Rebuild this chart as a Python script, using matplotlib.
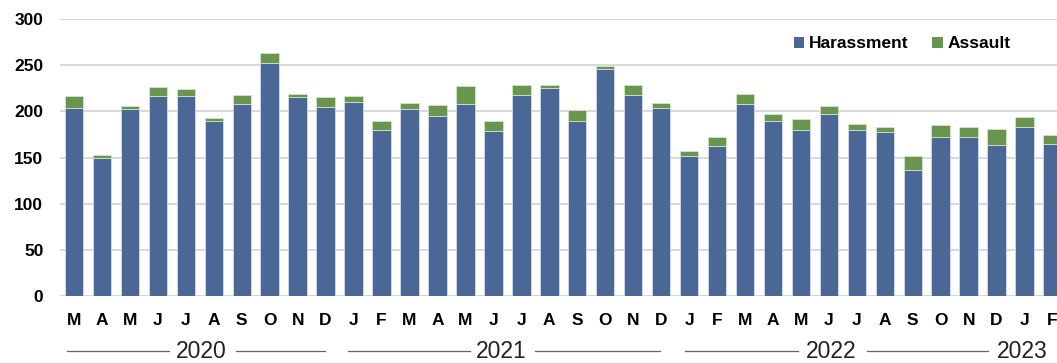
import matplotlib
matplotlib.use('Agg')
import matplotlib.pyplot as plt
from matplotlib.patches import Patch
import numpy as np

# Monthly reports, March 2020 - February 2023
months = ['M', 'A', 'M', 'J', 'J', 'A', 'S', 'O', 'N', 'D',
          'J', 'F', 'M', 'A', 'M', 'J', 'J', 'A', 'S', 'O', 'N', 'D',
          'J', 'F', 'M', 'A', 'M', 'J', 'J', 'A', 'S', 'O', 'N', 'D',
          'J', 'F']
harassment = [204, 150, 202, 217, 217, 189, 208, 252, 216, 205,
              210, 180, 202, 195, 208, 179, 218, 225, 190, 246, 218, 204,
              152, 162, 208, 190, 180, 197, 180, 178, 136, 172, 172, 163,
              183, 165]
assault = [13, 3, 4, 9, 7, 4, 10, 11, 3, 10,
           7, 10, 7, 12, 19, 11, 10, 4, 11, 3, 10, 5,
           5, 10, 11, 7, 12, 9, 6, 5, 16, 13, 11, 18,
           11, 9]
years = ['2020', '2021', '2022', '2023']
year_label_x = [4.55, 15.3, 27.1, 33.9]
year_spans = [(-0.25, 3.4, 5.8, 8.98),
              (9.8, 14.15, 16.5, 20.96),
              (21.85, 25.9, 28.36, 32.69),
              None]

blue = '#4a6796'
green = '#6a954e'
plt.rcParams['font.family'] = ['Liberation Sans', 'DejaVu Sans']

fig = plt.figure(figsize=(10.57, 3.63), dpi=100)
ax = fig.add_axes([60 / 1057, 67 / 363, 997 / 1057, 277 / 363])

x = np.arange(len(months))
ax.bar(x, harassment, width=0.66, color=blue, edgecolor='#dde5ee',
       linewidth=0.5, zorder=3)
ax.bar(x, assault, bottom=harassment, width=0.66, color=green,
       edgecolor='#dde8d6', linewidth=0.5, zorder=3)

ax.set_xlim(-0.5, 35.16)
ax.set_ylim(0, 300)
ax.set_yticks(range(0, 301, 50))
ax.yaxis.grid(True, color='#d6d6d6', linewidth=1.3, zorder=0)
ax.set_axisbelow(True)
for s in ax.spines.values():
    s.set_visible(False)
ax.axhline(0, color='#d6d6d6', linewidth=1.5, zorder=2)

ax.set_xticks(x)
ax.set_xticklabels(months, fontsize=12.5, fontweight='bold')
ax.tick_params(axis='x', length=0, pad=12)
ax.tick_params(axis='y', length=0, pad=12, labelsize=12.5)
for lbl in ax.get_yticklabels():
    lbl.set_fontweight('bold')

# year labels with rules either side
tr = ax.get_xaxis_transform()
yy = -0.199
for name, lx, span in zip(years, year_label_x, year_spans):
    ax.text(lx, yy, name, transform=tr, ha='center', va='center',
            fontsize=16.5, color='#222222', clip_on=False)
    if span is not None:
        ax.plot([span[0], span[1]], [yy, yy], transform=tr, color='#666666',
                linewidth=0.9, clip_on=False)
        ax.plot([span[2], span[3]], [yy, yy], transform=tr, color='#666666',
                linewidth=0.9, clip_on=False)

handles = [Patch(facecolor=blue, label='Harassment'),
           Patch(facecolor=green, label='Assault')]
fig.legend(handles=handles, loc='center left', bbox_to_anchor=(785 / 1057, 1 - 44 / 363),
           ncol=2, frameon=False, borderpad=0, handlelength=0.6, handleheight=0.6,
           handletextpad=0.25, columnspacing=1.4,
           prop={'size': 12.5, 'weight': 'bold'})

fig.savefig('out.png', dpi=100)
